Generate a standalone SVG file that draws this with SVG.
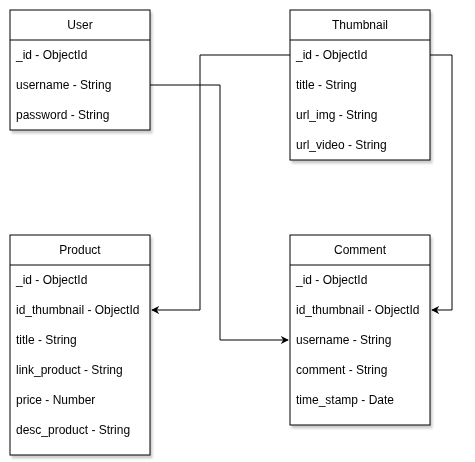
<svg xmlns="http://www.w3.org/2000/svg" width="475" height="462" viewBox="0 0 475 462">
<defs>
<filter id="sh" x="-10%" y="-10%" width="130%" height="130%">
<feGaussianBlur in="SourceAlpha" stdDeviation="1.2"/>
<feOffset dx="2" dy="3" result="b"/>
<feComponentTransfer><feFuncA type="linear" slope="0.2"/></feComponentTransfer>
<feMerge><feMergeNode/><feMergeNode in="SourceGraphic"/></feMerge>
</filter>
<marker id="arr" viewBox="0 0 10 10" refX="9" refY="5" markerWidth="8" markerHeight="8" markerUnits="userSpaceOnUse" orient="auto">
<path d="M0,0 L10,5 L0,10 L3,5 Z" fill="#000"/>
</marker>
</defs>
<style>
.box{fill:#fff;stroke:#000;stroke-width:1}
.hd{font-family:"Liberation Sans",Arial,sans-serif;font-size:12px;text-anchor:middle;fill:#000}
.rw{font-family:"Liberation Sans",Arial,sans-serif;font-size:12px;fill:#000}
.ln{fill:none;stroke:#000;stroke-width:1}
</style>
<rect width="475" height="462" fill="#fff"/>
<g id="connectors">
<path class="ln" d="M290,55 H200 V310 H152" marker-end="url(#arr)"/>
<path class="ln" d="M430,55 H452 V310 H432" marker-end="url(#arr)"/>
<path class="ln" d="M150,85 H220 V340 H288" marker-end="url(#arr)"/>
</g>
<g id="user" filter="url(#sh)">
<rect class="box" x="10" y="10" width="140" height="120"/>
<line class="ln" x1="10" y1="40" x2="150" y2="40"/>
<text class="hd" x="80" y="29">User</text>
<text class="rw" x="16" y="59">_id - ObjectId</text>
<text class="rw" x="16" y="89">username - String</text>
<text class="rw" x="16" y="119">password - String</text>
</g>
<g id="thumbnail" filter="url(#sh)">
<rect class="box" x="290" y="10" width="140" height="150"/>
<line class="ln" x1="290" y1="40" x2="430" y2="40"/>
<text class="hd" x="360" y="29">Thumbnail</text>
<text class="rw" x="296" y="59">_id - ObjectId</text>
<text class="rw" x="296" y="89">title - String</text>
<text class="rw" x="296" y="119">url_img - String</text>
<text class="rw" x="296" y="149">url_video - String</text>
</g>
<g id="product" filter="url(#sh)">
<rect class="box" x="10" y="235" width="140" height="220"/>
<line class="ln" x1="10" y1="265" x2="150" y2="265"/>
<text class="hd" x="80" y="254">Product</text>
<text class="rw" x="16" y="284">_id - ObjectId</text>
<text class="rw" x="16" y="314">id_thumbnail - ObjectId</text>
<text class="rw" x="16" y="344">title - String</text>
<text class="rw" x="16" y="374">link_product - String</text>
<text class="rw" x="16" y="404">price - Number</text>
<text class="rw" x="16" y="434">desc_product - String</text>
</g>
<g id="comment" filter="url(#sh)">
<rect class="box" x="290" y="235" width="140" height="190"/>
<line class="ln" x1="290" y1="265" x2="430" y2="265"/>
<text class="hd" x="360" y="254">Comment</text>
<text class="rw" x="296" y="284">_id - ObjectId</text>
<text class="rw" x="296" y="314">id_thumbnail - ObjectId</text>
<text class="rw" x="296" y="344">username - String</text>
<text class="rw" x="296" y="374">comment - String</text>
<text class="rw" x="296" y="404">time_stamp - Date</text>
</g>
</svg>
